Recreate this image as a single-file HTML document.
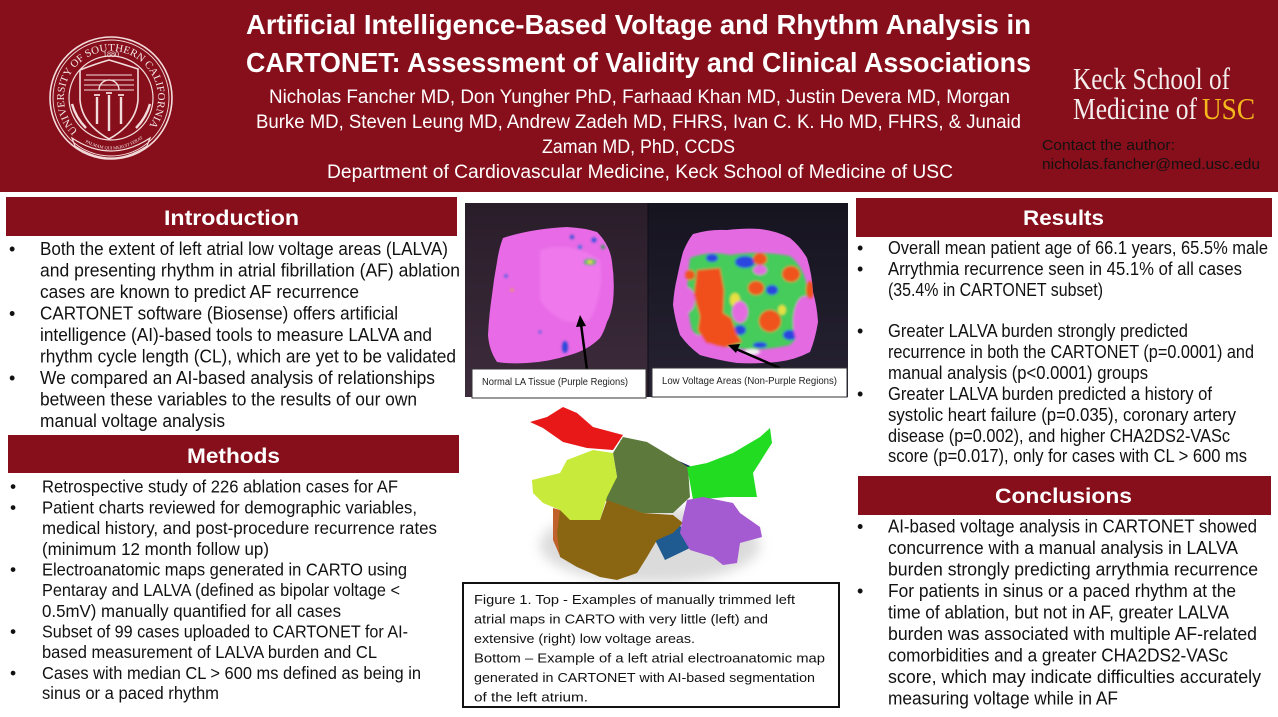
<!DOCTYPE html>
<html><head><meta charset="utf-8"><style>
html,body{margin:0;padding:0;background:#fff;overflow:hidden;}
svg{display:block;}
.b{font-family:"Liberation Sans",Arial,sans-serif;font-size:18px;fill:#111;}
.m{font-family:"Liberation Sans",Arial,sans-serif;font-size:17.5px;fill:#111;}
.h{font-family:"Liberation Sans",Arial,sans-serif;font-size:21px;font-weight:bold;fill:#fff;}
.c{font-family:"Liberation Sans",Arial,sans-serif;font-size:13px;fill:#111;}
.l{font-family:"Liberation Sans",Arial,sans-serif;font-size:10px;fill:#222;}
.t{font-family:"Liberation Sans",Arial,sans-serif;font-size:28px;font-weight:bold;fill:#fff;}
.a{font-family:"Liberation Sans",Arial,sans-serif;font-size:19px;fill:#fff;}
.k{font-family:"Liberation Serif","Times New Roman",serif;font-size:31px;fill:#f3ecec;}
.s{font-family:"Liberation Serif","Times New Roman",serif;fill:#f5e6e6;}
</style></head><body>
<svg width="1278" height="717" viewBox="0 0 1278 717" xmlns="http://www.w3.org/2000/svg">
<defs>
<filter id="blur" x="-20%" y="-20%" width="140%" height="140%"><feGaussianBlur stdDeviation="6"/></filter>
<filter id="blur2"><feGaussianBlur stdDeviation="1.2"/></filter>
<linearGradient id="lbg" x1="0" y1="0" x2="0" y2="1"><stop offset="0" stop-color="#2a1d2a"/><stop offset="1" stop-color="#3d2c3c"/></linearGradient>
<linearGradient id="rbg" x1="0" y1="0" x2="0" y2="1"><stop offset="0" stop-color="#16141f"/><stop offset="1" stop-color="#262233"/></linearGradient>
<path id="sealArc" d="M 77.8,131.2 A 47 47 0 1 1 144.2,131.2"/>
<path id="mottoArc" d="M 80,139 Q 111,160 142,139"/>
<clipPath id="rclip"><path d="M693,234 Q710,229 727,230 Q745,228 760,229 Q777,231 790,238 Q800,246 807,258 Q812,274 813,292 Q817,306 818,322 Q815,340 810,352 Q795,360 777,362 Q757,364 737,363 Q717,360 700,355 Q688,346 680,335 Q675,320 673,305 Q674,290 677,278 Q680,263 683,252 Q688,240 693,234 Z"/></clipPath>
</defs>

<!-- Header -->
<rect x="0" y="0" width="1278" height="192" fill="#860f1b"/>

<!-- USC seal -->
<g fill="none" stroke="#f3dcdc" stroke-width="1.6">
  <circle cx="111" cy="98" r="61"/>
  <circle cx="111" cy="98" r="58" stroke-width="0.9"/>
  <circle cx="111" cy="98" r="42" stroke-width="1.2"/>
  <path d="M80,70 Q95,64 109,60 Q123,64 138,69 L138,100 Q136,124 109,139 Q82,124 80,100 Z"/>
  <path d="M84,90 L134,90 M84,85 L134,85 M84,80 L134,80 M86,75 L132,75" stroke-width="0.9"/>
  <path d="M99,90 A10 10 0 0 1 119,90" stroke-width="1.4"/>
  <path d="M97,97 L97,124 M109,95 L109,131 M121,97 L121,124" stroke-width="2.4"/>
  <path d="M94,95 L100,95 M106,93 L112,93 M118,95 L124,95" stroke-width="1.8"/>
  <path d="M72,104 Q76,118 86,128 M150,104 Q146,118 136,128" stroke-width="2.4"/>
  <path d="M72,138 Q111,164 150,138 L147,146 Q111,170 75,146 Z" stroke-width="1.2"/>
</g>
<text class="s" font-size="10.5"><textPath href="#sealArc" textLength="214" lengthAdjust="spacingAndGlyphs">UNIVERSITY  OF SOUTHERN  CALIFORNIA</textPath></text>
<text class="s" x="111" y="57" font-size="8" text-anchor="middle">1880</text>
<text class="s" font-size="4.5"><textPath href="#mottoArc" startOffset="6">PALMAM  QUI MERUIT  FERAT</textPath></text>

<!-- Title -->
<text class="t" x="246" y="34" textLength="785" lengthAdjust="spacingAndGlyphs">Artificial Intelligence-Based Voltage and Rhythm Analysis in</text>
<text class="t" x="246" y="72" textLength="785" lengthAdjust="spacingAndGlyphs">CARTONET: Assessment of Validity and Clinical Associations</text>
<text class="a" x="269" y="103" textLength="741" lengthAdjust="spacingAndGlyphs">Nicholas Fancher MD, Don Yungher PhD, Farhaad Khan MD, Justin Devera MD, Morgan</text>
<text class="a" x="256" y="128" textLength="765" lengthAdjust="spacingAndGlyphs">Burke MD, Steven Leung MD, Andrew Zadeh MD, FHRS, Ivan C. K. Ho MD, FHRS, &amp; Junaid</text>
<text class="a" x="542" y="153" textLength="193" lengthAdjust="spacingAndGlyphs">Zaman MD, PhD, CCDS</text>
<text class="a" x="327" y="178" textLength="626" lengthAdjust="spacingAndGlyphs">Department of Cardiovascular Medicine, Keck School of Medicine of USC</text>

<!-- Keck logo -->
<text class="k" x="1073" y="89" textLength="157" lengthAdjust="spacingAndGlyphs">Keck School of</text>
<text class="k" x="1073" y="119" textLength="124" lengthAdjust="spacingAndGlyphs">Medicine of</text>
<text class="k" x="1202" y="119" textLength="53" lengthAdjust="spacingAndGlyphs" style="fill:#f5b81c">USC</text>
<text class="b" x="1042" y="150" textLength="133" lengthAdjust="spacingAndGlyphs" style="font-size:15px;fill:#141010">Contact the author:</text>
<text class="b" x="1042" y="169" textLength="218" lengthAdjust="spacingAndGlyphs" style="font-size:15px;fill:#141010">nicholas.fancher@med.usc.edu</text>

<!-- Section bars -->
<rect x="6" y="197" width="451" height="39" fill="#860f1b"/>
<text class="h" x="164" y="225" textLength="135" lengthAdjust="spacingAndGlyphs">Introduction</text>
<rect x="8" y="435" width="451" height="38" fill="#860f1b"/>
<text class="h" x="187" y="463" textLength="93" lengthAdjust="spacingAndGlyphs">Methods</text>
<rect x="856" y="198" width="416" height="39" fill="#860f1b"/>
<text class="h" x="1023" y="225" textLength="81" lengthAdjust="spacingAndGlyphs">Results</text>
<rect x="858" y="476" width="413" height="39" fill="#860f1b"/>
<text class="h" x="995" y="503" textLength="137" lengthAdjust="spacingAndGlyphs">Conclusions</text>

<!-- Introduction -->
<g class="b">
<text x="9" y="255">•</text><text x="9" y="319.5">•</text><text x="9" y="384">•</text>
<text x="40" y="255" textLength="408" lengthAdjust="spacingAndGlyphs">Both the extent of left atrial low voltage areas (LALVA)</text>
<text x="40" y="276.5" textLength="420" lengthAdjust="spacingAndGlyphs">and presenting rhythm in atrial fibrillation (AF) ablation</text>
<text x="40" y="298" textLength="319" lengthAdjust="spacingAndGlyphs">cases are known to predict AF recurrence</text>
<text x="40" y="319.5" textLength="358" lengthAdjust="spacingAndGlyphs">CARTONET software (Biosense) offers artificial</text>
<text x="40" y="341" textLength="392" lengthAdjust="spacingAndGlyphs">intelligence (AI)-based tools to measure LALVA and</text>
<text x="40" y="362.5" textLength="416" lengthAdjust="spacingAndGlyphs">rhythm cycle length (CL), which are yet to be validated</text>
<text x="40" y="384" textLength="395" lengthAdjust="spacingAndGlyphs">We compared an AI-based analysis of relationships</text>
<text x="40" y="405.5" textLength="377" lengthAdjust="spacingAndGlyphs">between these variables to the results of our own</text>
<text x="40" y="427" textLength="185" lengthAdjust="spacingAndGlyphs">manual voltage analysis</text>
</g>

<!-- Methods -->
<g class="m">
<text x="10" y="492.5">•</text><text x="10" y="513.5">•</text><text x="10" y="575.5">•</text><text x="10" y="637.5">•</text><text x="10" y="679">•</text>
<text x="42" y="492.5" textLength="356" lengthAdjust="spacingAndGlyphs">Retrospective study of 226 ablation cases for AF</text>
<text x="42" y="513.5" textLength="375" lengthAdjust="spacingAndGlyphs">Patient charts reviewed for demographic variables,</text>
<text x="42" y="534" textLength="395" lengthAdjust="spacingAndGlyphs">medical history, and post-procedure recurrence rates</text>
<text x="42" y="555" textLength="227" lengthAdjust="spacingAndGlyphs">(minimum 12 month follow up)</text>
<text x="42" y="575.5" textLength="365" lengthAdjust="spacingAndGlyphs">Electroanatomic maps generated in CARTO using</text>
<text x="42" y="596" textLength="358" lengthAdjust="spacingAndGlyphs">Pentaray and LALVA (defined as bipolar voltage &lt;</text>
<text x="42" y="617" textLength="299" lengthAdjust="spacingAndGlyphs">0.5mV) manually quantified for all cases</text>
<text x="42" y="637.5" textLength="366" lengthAdjust="spacingAndGlyphs">Subset of 99 cases uploaded to CARTONET for AI-</text>
<text x="42" y="658" textLength="335" lengthAdjust="spacingAndGlyphs">based measurement of LALVA burden and CL</text>
<text x="42" y="679" textLength="379" lengthAdjust="spacingAndGlyphs">Cases with median CL &gt; 600 ms defined as being in</text>
<text x="42" y="699" textLength="177" lengthAdjust="spacingAndGlyphs">sinus or a paced rhythm</text>
</g>

<!-- Results -->
<g class="b">
<text x="857" y="254">•</text><text x="857" y="275">•</text><text x="857" y="337">•</text><text x="857" y="400">•</text>
<text x="888" y="254" textLength="380" lengthAdjust="spacingAndGlyphs">Overall mean patient age of 66.1 years, 65.5% male</text>
<text x="888" y="275" textLength="354" lengthAdjust="spacingAndGlyphs">Arrythmia recurrence seen in 45.1% of all cases</text>
<text x="888" y="296" textLength="215" lengthAdjust="spacingAndGlyphs">(35.4% in CARTONET subset)</text>
<text x="888" y="337" textLength="300" lengthAdjust="spacingAndGlyphs">Greater LALVA burden strongly predicted</text>
<text x="888" y="358" textLength="366" lengthAdjust="spacingAndGlyphs">recurrence in both the CARTONET (p=0.0001) and</text>
<text x="888" y="379" textLength="260" lengthAdjust="spacingAndGlyphs">manual analysis (p&lt;0.0001) groups</text>
<text x="888" y="400" textLength="324" lengthAdjust="spacingAndGlyphs">Greater LALVA burden predicted a history of</text>
<text x="888" y="421" textLength="348" lengthAdjust="spacingAndGlyphs">systolic heart failure (p=0.035), coronary artery</text>
<text x="888" y="442" textLength="342" lengthAdjust="spacingAndGlyphs">disease (p=0.002), and higher CHA2DS2-VASc</text>
<text x="888" y="462" textLength="359" lengthAdjust="spacingAndGlyphs">score (p=0.017), only for cases with CL &gt; 600 ms</text>
</g>

<!-- Conclusions -->
<g class="b">
<text x="857" y="532.5">•</text><text x="857" y="597">•</text>
<text x="888" y="532.5" textLength="369" lengthAdjust="spacingAndGlyphs">AI-based voltage analysis in CARTONET showed</text>
<text x="888" y="554" textLength="350" lengthAdjust="spacingAndGlyphs">concurrence with a manual analysis in LALVA</text>
<text x="888" y="575.5" textLength="370" lengthAdjust="spacingAndGlyphs">burden strongly predicting arrythmia recurrence</text>
<text x="888" y="597" textLength="348" lengthAdjust="spacingAndGlyphs">For patients in sinus or a paced rhythm at the</text>
<text x="888" y="618.5" textLength="341" lengthAdjust="spacingAndGlyphs">time of ablation, but not in AF, greater LALVA</text>
<text x="888" y="640" textLength="369" lengthAdjust="spacingAndGlyphs">burden was associated with multiple AF-related</text>
<text x="888" y="661.5" textLength="340" lengthAdjust="spacingAndGlyphs">comorbidities and a greater CHA2DS2-VASc</text>
<text x="888" y="683" textLength="373" lengthAdjust="spacingAndGlyphs">score, which may indicate difficulties accurately</text>
<text x="888" y="704.5" textLength="230" lengthAdjust="spacingAndGlyphs">measuring voltage while in AF</text>
</g>

<!-- Figure top images -->
<rect x="465" y="203" width="183" height="194" fill="url(#lbg)"/>
<rect x="648" y="203" width="200" height="194" fill="url(#rbg)"/>
<!-- left blob -->
<path d="M503,238 Q530,229 567,227 Q585,228 597,232 Q610,245 612,262 Q615,282 613,302 Q611,315 607,322 Q604,332 600,338 Q588,350 570,355 Q548,362 527,363 Q508,364 497,362 Q489,350 488,335 Q489,315 492,295 Q494,278 497,262 Q499,248 503,238 Z" fill="#e86ae6"/>
<path d="M540,250 Q570,240 600,260 Q605,290 590,320 Q560,330 540,300 Z" fill="#ee78ec" filter="url(#blur2)"/>
<g filter="url(#blur2)">
<ellipse cx="590" cy="262" rx="6" ry="3" fill="#30c060"/>
<ellipse cx="590" cy="262" rx="3" ry="1.6" fill="#e8e040"/>
<circle cx="594" cy="240" r="2.5" fill="#3050e0"/>
<circle cx="580" cy="247" r="2" fill="#4070e0"/>
<circle cx="572" cy="237" r="2" fill="#2050d0"/>
<circle cx="603" cy="247" r="2" fill="#30a050"/>
<ellipse cx="565" cy="347" rx="3" ry="6" fill="#2848d8"/>
<circle cx="506" cy="276" r="1.6" fill="#3060e0"/>
<circle cx="512" cy="290" r="1.4" fill="#e0b030"/>
<circle cx="540" cy="332" r="1.4" fill="#3060e0"/>
</g>
<!-- right blob -->
<path d="M693,234 Q710,229 727,230 Q745,228 760,229 Q777,231 790,238 Q800,246 807,258 Q812,274 813,292 Q817,306 818,322 Q815,340 810,352 Q795,360 777,362 Q757,364 737,363 Q717,360 700,355 Q688,346 680,335 Q675,320 673,305 Q674,290 677,278 Q680,263 683,252 Q688,240 693,234 Z" fill="#e46ae2"/>
<g clip-path="url(#rclip)">
<g filter="url(#blur2)">
<path d="M690,258 Q710,250 730,255 Q760,250 790,256 Q808,270 808,300 Q806,330 790,345 Q760,352 735,348 Q705,345 692,330 Q684,300 690,258 Z" fill="#44cc5a"/>
<ellipse cx="745" cy="262" rx="10" ry="6" fill="#2a44e0"/>
<ellipse cx="772" cy="290" rx="6" ry="5" fill="#2a44e0"/>
<ellipse cx="740" cy="330" rx="6" ry="5" fill="#2a44e0"/>
<ellipse cx="790" cy="335" rx="7" ry="5" fill="#2a44e0"/>
<ellipse cx="712" cy="258" rx="6" ry="4" fill="#2a44e0"/>
<ellipse cx="760" cy="345" rx="7" ry="3" fill="#2a44e0"/>
<ellipse cx="735" cy="300" rx="5" ry="7" fill="#e8e040"/>
<ellipse cx="782" cy="310" rx="4" ry="5" fill="#e8e040"/>
<path d="M700,236 Q740,228 790,240 L792,250 Q760,252 740,248 Q715,252 700,250 Z" fill="#e46ae2"/>
<ellipse cx="686" cy="300" rx="9" ry="13" fill="#e46ae2"/>
<ellipse cx="697" cy="347" rx="16" ry="12" fill="#e46ae2"/>
<ellipse cx="805" cy="322" rx="12" ry="26" fill="#e46ae2"/>
<ellipse cx="740" cy="312" rx="8" ry="11" fill="#e46ae2"/>
<ellipse cx="760" cy="270" rx="7" ry="5" fill="#e46ae2"/>
<path d="M697,270 L720,268 L724,290 L723,313 L731,318 L737,335 L742,342 L725,347 L706,343 L698,330 L700,316 L694,295 Z" fill="#f0501e"/>
<ellipse cx="770" cy="321" rx="11" ry="11" fill="#f0521e"/>
<ellipse cx="760" cy="259" rx="7" ry="6" fill="#f0521e"/>
<ellipse cx="791" cy="274" rx="9" ry="8" fill="#f0521e"/>
<ellipse cx="756" cy="288" rx="8" ry="7" fill="#f0521e"/>
<ellipse cx="810" cy="290" rx="4" ry="9" fill="#f0521e"/>
<ellipse cx="690" cy="275" rx="5" ry="5" fill="#f0521e"/>
<ellipse cx="752" cy="352" rx="8" ry="3" fill="#f2f2f2"/>
</g>
</g>
<line x1="648" y1="203" x2="648" y2="397" stroke="#0e0c12" stroke-width="1"/>
<!-- arrows -->
<line x1="587" y1="370" x2="581" y2="324" stroke="#000" stroke-width="2.5"/>
<path d="M580,315 L576,327 L586,326 Z" fill="#000"/>
<line x1="780" y1="368" x2="736" y2="349" stroke="#000" stroke-width="2.5"/>
<path d="M728,345 L740,344 L736,353 Z" fill="#000"/>
<!-- labels -->
<rect x="472" y="369" width="174" height="29" fill="#fff" stroke="#333" stroke-width="1"/>
<text class="l" x="482" y="385" textLength="146" lengthAdjust="spacingAndGlyphs">Normal LA Tissue (Purple Regions)</text>
<rect x="652" y="368" width="195" height="29" fill="#fff" stroke="#333" stroke-width="1"/>
<text class="l" x="662" y="384" textLength="175" lengthAdjust="spacingAndGlyphs">Low Voltage Areas (Non-Purple Regions)</text>

<!-- 3D segmented map -->
<ellipse cx="650" cy="545" rx="110" ry="38" fill="#999" opacity="0.35" filter="url(#blur)"/>
<path d="M553,508 L560,510 L560,556 L553,540 Z" fill="#c0602a"/>
<path d="M620,440 Q650,448 690,466 L690,470 L640,455 Z" fill="#1a2a60"/>
<path d="M655,540 L680,525 L690,548 L665,560 Z" fill="#1f5a90"/>
<path d="M530,422 L547,417 L563,407 L577,413 L593,427 L623,435 L613,450 L587,448 L563,442 L543,428 Z" fill="#e81818"/>
<path d="M613,453 L623,437 L647,442 L677,460 L688,467 L690,497 L673,513 L643,513 L603,500 L617,477 Z" fill="#5d7a3c"/>
<path d="M560,510 L600,520 L607,500 L643,513 L673,515 L683,523 L673,533 L657,540 L647,557 L637,573 L617,580 L600,577 L577,567 L560,557 L557,533 Z" fill="#8a6512"/>
<path d="M532,480 L560,473 L567,460 L593,450 L613,453 L617,477 L607,497 L600,520 L570,520 L560,510 L543,503 L533,493 Z" fill="#c8ea3a"/>
<path d="M687,467 L707,463 L733,453 L760,437 L770,428 L772,443 L753,473 L757,497 L727,497 L693,500 L690,483 Z" fill="#22dc22"/>
<path d="M687,500 L703,497 L733,503 L740,513 L760,527 L762,537 L740,543 L737,563 L723,565 L713,557 L690,550 L680,533 L683,517 Z" fill="#a45ad0"/>

<!-- caption -->
<rect x="463" y="583" width="376" height="124" fill="#fff" stroke="#111" stroke-width="2"/>
<g class="c">
<text x="474" y="604" textLength="321" lengthAdjust="spacingAndGlyphs">Figure 1. Top - Examples of manually trimmed left</text>
<text x="474" y="623.5" textLength="294" lengthAdjust="spacingAndGlyphs">atrial maps in CARTO with very little (left) and</text>
<text x="474" y="643" textLength="221" lengthAdjust="spacingAndGlyphs">extensive (right) low voltage areas.</text>
<text x="474" y="662.5" textLength="351" lengthAdjust="spacingAndGlyphs">Bottom – Example of a left atrial electroanatomic map</text>
<text x="474" y="682" textLength="341" lengthAdjust="spacingAndGlyphs">generated in CARTONET with AI-based segmentation</text>
<text x="474" y="701.5" textLength="114" lengthAdjust="spacingAndGlyphs">of the left atrium.</text>
</g>
</svg>
</body></html>
